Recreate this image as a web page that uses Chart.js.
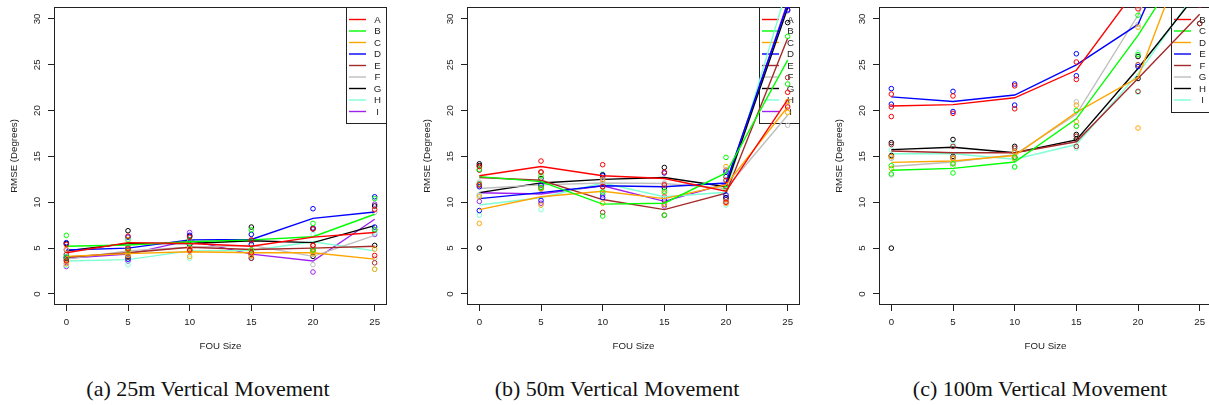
<!DOCTYPE html>
<html>
<head>
<meta charset="utf-8">
<script src="https://cdn.jsdelivr.net/npm/chart.js@4.4.0/dist/chart.umd.min.js"></script>
<style>
  body { margin: 0; width: 1209px; height: 405px; overflow: hidden; background: #fff; position: relative; }
  canvas { position: absolute; top: 0; }
  .caption { position: absolute; top: 377px; height: 24px; line-height: 24px; text-align: center;
             font-family: "Liberation Serif", "Times New Roman", serif; font-size: 22px; color: #111; white-space: nowrap; }
</style>
</head>
<body>
<canvas id="chart25" width="397" height="365" style="left:0px"></canvas>
<canvas id="chart50" width="397" height="365" style="left:413px"></canvas>
<canvas id="chart100" width="397" height="365" style="left:825px"></canvas>
<div class="caption" style="left:58px;width:300px">(a) 25m Vertical Movement</div>
<div class="caption" style="left:467px;width:300px">(b) 50m Vertical Movement</div>
<div class="caption" style="left:890px;width:300px">(c) 100m Vertical Movement</div>
<script>
/* eje x y eje y */
const fouSize = [0, 5, 10, 15, 20, 25];
const rmseTicks = [0, 5, 10, 15, 20, 25, 30];

/* colores de R: red, green, orange, blue, brown, gray, black, aquamarine, purple */
const seriesColors = ['#FF0000', '#00FF00', '#FFA500', '#0000FF', '#A52A2A', '#BEBEBE', '#000000', '#7FFFD4', '#A020F0'];

/* ---- (a) 25m ---- */
const names25 = ['A', 'B', 'C', 'D', 'E', 'F', 'G', 'H', 'I'];
const lines25 = [
  [4.5, 5.6, 5.5, 5.2, 6.2, 6.7],
  [5.2, 5.35, 5.7, 5.9, 6.25, 8.7],
  [4.1, 4.4, 4.6, 4.5, 4.5, 3.8],
  [4.8, 5.0, 5.9, 5.95, 8.25, 8.95],
  [4.0, 4.5, 5.1, 4.85, 5.0, 5.2],
  [3.8, 4.7, 5.1, 5.3, 4.1, 6.4],
  [4.7, 5.5, 5.5, 5.8, 5.6, 7.45],
  [3.6, 3.75, 4.7, 4.75, 5.7, 4.7],
  [3.9, 4.35, 5.85, 4.35, 3.6, 8.15]
];
const points25 = [
  [[3.6, 5.4], [6.3, 4.9], [6.2, 4.8], [5.9, 4.5], [5.3, 7.1], [9.2, 4.2]],
  [[6.4, 4.0], [5.9, 4.8], [5.9, 5.5], [7.0, 4.8], [7.7, 4.8], [10.4, 7.0]],
  [[4.9, 3.3], [4.6, 4.2], [5.0, 4.1], [4.8, 4.2], [4.6, 4.4], [4.9, 2.7]],
  [[5.6, 4.0], [6.2, 3.8], [6.4, 5.4], [6.5, 5.4], [9.3, 7.2], [10.6, 7.3]],
  [[4.3, 3.7], [5.0, 4.0], [5.4, 4.8], [5.8, 3.9], [5.3, 4.7], [7.0, 3.4]],
  [[4.3, 3.3], [5.2, 4.2], [5.6, 4.6], [6.5, 4.1], [5.0, 3.2], [8.9, 3.9]],
  [[5.5, 3.9], [6.9, 4.1], [6.3, 4.7], [7.3, 4.3], [7.1, 4.1], [9.6, 5.3]],
  [[4.1, 3.1], [4.3, 3.2], [5.5, 3.9], [5.5, 4.0], [6.5, 4.9], [6.7, 2.7]],
  [[4.8, 3.0], [5.1, 3.6], [6.7, 5.0], [4.8, 3.9], [4.8, 2.4], [9.8, 6.5]]
];

/* ---- (b) 50m ---- */
const names50 = ['A', 'B', 'C', 'D', 'E', 'F', 'G', 'H', 'I'];
const lines50 = [
  [12.9, 13.9, 12.9, 12.6, 11.2, 21.2],
  [12.8, 12.25, 9.8, 9.9, 13.2, 25.5],
  [9.2, 10.6, 11.2, 10.4, 11.9, 20.4],
  [10.4, 11.05, 11.8, 11.7, 12.1, 31.6],
  [12.7, 12.4, 10.3, 9.2, 11.0, 27.9],
  [11.5, 11.9, 12.1, 12.05, 11.5, 19.5],
  [11.05, 12.1, 12.5, 12.7, 11.7, 31.2],
  [9.7, 10.5, 12.1, 10.6, 11.1, 33.5],
  [11.05, 10.9, 11.8, 10.1, 12.0, 31.8]
];
const points50 = [
  [[13.9, 11.9], [14.5, 13.3], [14.1, 11.7], [11.9, 13.3], [10.0, 12.4], [22.0, 20.4]],
  [[13.6, 12.0], [12.9, 11.6], [8.5, 11.1], [8.6, 11.2], [14.9, 11.5], [28.1, 22.9]],
  [[10.6, 7.7], [11.5, 9.7], [12.5, 9.9], [11.0, 9.8], [13.9, 9.9], [21.0, 19.8]],
  [[11.7, 9.1], [11.9, 10.2], [12.9, 10.5], [13.2, 10.2], [13.3, 10.8], [31.0, 32.2]],
  [[13.5, 11.9], [13.3, 11.5], [11.7, 8.9], [9.8, 8.6], [11.7, 10.3], [32.2, 23.6]],
  [[12.2, 10.8], [12.4, 11.4], [12.3, 11.9], [12.1, 12.0], [12.9, 10.1], [20.6, 18.4]],
  [[5.0, 14.0, 14.2], [12.6, 11.6], [12.0, 13.0], [13.8, 11.6], [12.8, 10.5], [29.6, 32.8]],
  [[10.8, 8.6], [11.8, 9.2], [13.1, 11.2], [11.4, 9.8], [12.5, 9.7], [33.0, 34.0]],
  [[12.0, 10.1], [11.9, 9.9], [12.7, 10.8], [10.6, 9.6], [13.5, 10.5], [30.9, 32.7]]
];

/* ---- (c) 100m ---- */
const names100 = ['B', 'C', 'D', 'E', 'F', 'G', 'H', 'I'];
const lines100 = [
  [20.5, 20.65, 21.4, 24.4, 33.5, 40.0],
  [13.5, 13.7, 14.4, 19.1, 28.2, 38.8],
  [14.35, 14.5, 15.1, 19.8, 23.6, 41.3],
  [21.5, 21.0, 21.7, 25.0, 29.4, 44.7],
  [15.6, 15.4, 15.4, 16.6, 23.5, 30.5],
  [13.9, 14.4, 15.2, 19.6, 30.4, 45.0],
  [15.75, 16.0, 15.4, 16.8, 24.6, 33.1],
  [15.3, 15.3, 14.7, 16.3, 24.0, 33.5]
];
const points100 = [
  [[21.8, 19.35, 20.4], [21.6, 19.7], [22.7, 20.2], [25.3, 23.4], [31.1, 35.9], [38.0, 42.0]],
  [[14.0, 13.1], [14.2, 13.2], [14.9, 13.85], [20.0, 18.3], [30.4, 26.1], [36.0, 41.0]],
  [[15.0, 13.7], [14.8, 14.2], [15.5, 14.7], [20.6, 18.8], [29.1, 18.1], [40.0, 42.6]],
  [[22.4, 20.7], [22.1, 19.9], [22.9, 20.6], [26.2, 23.8], [34.0, 24.8], [44.0, 45.4]],
  [[16.3, 15.0], [16.1, 14.8], [15.9, 14.9], [17.2, 16.1], [25.0, 22.1], [29.5, 31.5]],
  [[14.8, 13.0], [14.9, 13.9], [15.6, 14.8], [20.95, 18.3], [29.4, 31.4], [44.0, 46.0]],
  [[16.5, 15.1, 5.0], [16.85, 15.0], [16.1, 14.9], [17.4, 16.9], [25.9, 23.5], [29.5, 36.0]],
  [[15.7, 14.8], [16.3, 14.3], [15.4, 13.9], [16.9, 15.9], [26.3, 22.0], [33.0, 34.0]]
];

const FONT = '"Liberation Sans", Arial, sans-serif';
const INK = '#222';

/* caja del grafico y leyenda estilo R */
const rBox = {
  id: 'rBox',
  beforeDatasetsDraw(chart, args, opts) {
    const { ctx, chartArea: a } = chart;
    ctx.save();
    ctx.strokeStyle = INK;
    ctx.lineWidth = 1;
    ctx.strokeRect(a.left + 0.5, a.top + 0.5, a.right - a.left - 1, a.bottom - a.top - 1);

    // leyenda
    const n = opts.names.length;
    const top = a.top + 0.5;
    const bottom = a.top + 12.5 + (n - 1) * 11.5 + 12;
    ctx.strokeRect(Math.round(a.right - 41) + 0.5, top, 40, Math.round(bottom - top));
    ctx.font = '9.7px ' + FONT;
    ctx.textAlign = 'center';
    ctx.textBaseline = 'middle';
    opts.names.forEach((name, i) => {
      const y = a.top + 12.5 + i * 11.5;
      ctx.strokeStyle = seriesColors[i];
      ctx.lineWidth = 1.4;
      ctx.beginPath();
      ctx.moveTo(a.right - 38, y);
      ctx.lineTo(a.right - 21, y);
      ctx.stroke();
      ctx.fillStyle = INK;
      ctx.fillText(name, a.right - 9.5, y + 0.5);
    });
    ctx.restore();
  }
};

let makePanel = (id, names, lines, points) => {
  const datasets = [];
  names.forEach((name, i) => {
    datasets.push({
      label: name,
      data: fouSize.map((x, j) => ({ x: x, y: lines[i][j] })),
      showLine: true,
      borderColor: seriesColors[i],
      borderWidth: 1.4,
      pointRadius: 0,
      tension: 0
    });
    const pts = [];
    points[i].forEach((vals, j) => vals.forEach(v => pts.push({ x: fouSize[j], y: v })));
    datasets.push({
      label: name + ' runs',
      data: pts,
      showLine: false,
      pointStyle: 'circle',
      pointRadius: 2.3,
      pointBorderWidth: 1,
      pointBorderColor: seriesColors[i],
      pointBackgroundColor: 'rgba(0,0,0,0)'
    });
  });

  const tickFont = { family: FONT, size: 9.7 };

  new Chart(document.getElementById(id), {
    type: 'scatter',
    data: { datasets: datasets },
    options: {
      responsive: false,
      animation: false,
      layout: { padding: { top: 7, right: 10, left: 0, bottom: 0 } },
      plugins: { legend: { display: false }, tooltip: { enabled: false }, rBox: { names: names } },
      scales: {
        x: {
          type: 'linear', min: -1, max: 26,
          afterBuildTicks: s => { s.ticks = fouSize.map(v => ({ value: v })); },
          afterFit: s => { s.height = 60; s.paddingLeft = 0; s.paddingRight = 0; },
          grid: { drawOnChartArea: false, drawTicks: true, tickLength: 6, color: INK },
          border: { display: false },
          ticks: { font: tickFont, color: INK, padding: 6, autoSkip: false, maxRotation: 0 },
          title: { display: true, text: 'FOU Size', font: tickFont, color: INK, padding: { top: 0, bottom: 13 } }
        },
        y: {
          type: 'linear', min: -1.2, max: 31.3,
          afterBuildTicks: s => { s.ticks = rmseTicks.map(v => ({ value: v })); },
          afterFit: s => { s.width = 54; s.paddingTop = 0; s.paddingBottom = 0; },
          grid: { drawOnChartArea: false, drawTicks: true, tickLength: 6, color: INK },
          border: { display: false },
          ticks: { font: tickFont, color: INK, padding: 5.5, autoSkip: false, minRotation: 90, maxRotation: 90, crossAlign: 'center' },
          title: { display: true, text: 'RMSE (Degrees)', font: tickFont, color: INK, padding: { top: 9, bottom: 0 } }
        }
      }
    },
    plugins: [rBox]
  });
};

makePanel('chart25', names25, lines25, points25);
makePanel('chart50', names50, lines50, points50);
makePanel('chart100', names100, lines100, points100);
</script>
</body>
</html>
